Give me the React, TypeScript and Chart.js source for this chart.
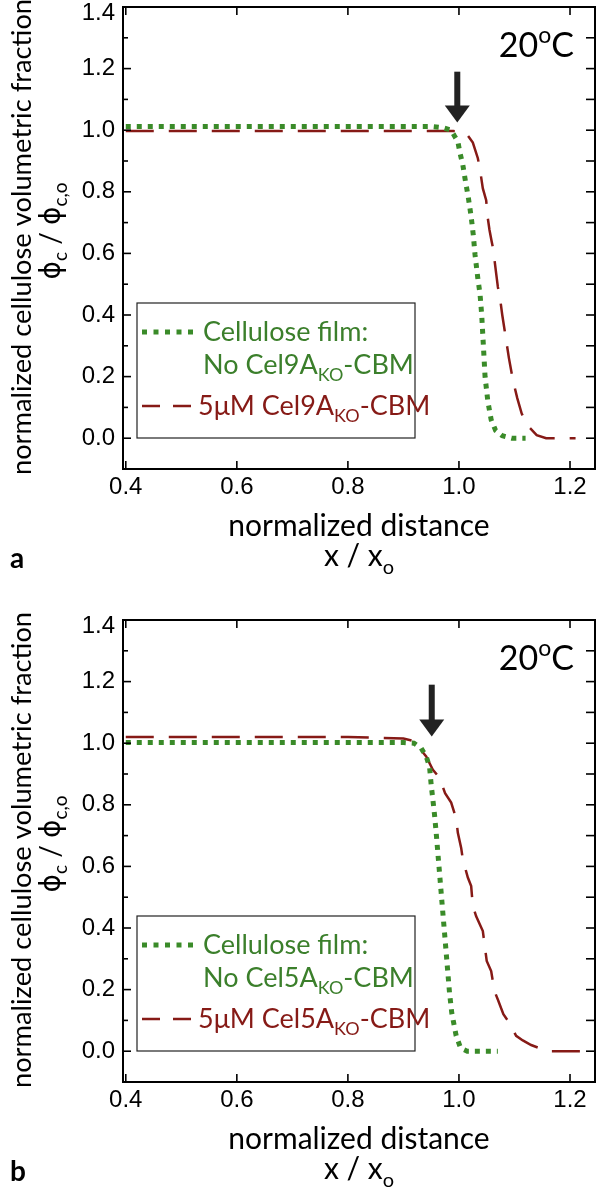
import React, { useEffect, useRef } from "react";
import { Chart, registerables } from "chart.js";

Chart.register(...registerables);

// ---------------- axes ----------------
const X_TICKS = [0.4, 0.6, 0.8, 1.0, 1.2];
const Y_TICKS = [0, 0.2, 0.4, 0.6, 0.8, 1.0, 1.2, 1.4];
const Y_MINOR_TICKS = [0.1, 0.3, 0.5, 0.7, 0.9, 1.1, 1.3];
const X_MIN = 0.395;
const X_MAX = 1.245;
const Y_MIN = -0.1;
const Y_MAX = 1.4;

// ---------------- panel a (Cel9A) ----------------
const A_FILM_X = [0.4, 0.6, 0.8, 0.95, 0.971, 0.986, 0.992, 0.998, 1.002, 1.007, 1.011, 1.017, 1.022, 1.026, 1.029, 1.034, 1.038, 1.041, 1.044, 1.047, 1.052, 1.058, 1.066, 1.078, 1.095, 1.12];
const A_FILM_Y = [1.012, 1.012, 1.012, 1.012, 1.008, 1.0, 0.981, 0.963, 0.925, 0.887, 0.842, 0.78, 0.719, 0.657, 0.595, 0.519, 0.467, 0.4, 0.3, 0.2, 0.12, 0.06, 0.025, 0.008, 0.0, 0.0];
const A_CBM_X = [0.4, 0.6, 0.8, 0.95, 0.99, 1.005, 1.013, 1.025, 1.034, 1.038, 1.043, 1.049, 1.052, 1.055, 1.059, 1.062, 1.064, 1.067, 1.07, 1.074, 1.078, 1.084, 1.09, 1.097, 1.105, 1.113, 1.124, 1.14, 1.157, 1.21];
const A_CBM_Y = [0.997, 0.997, 0.997, 0.997, 0.997, 0.995, 0.99, 0.96, 0.909, 0.871, 0.811, 0.773, 0.714, 0.676, 0.638, 0.611, 0.579, 0.535, 0.492, 0.454, 0.4, 0.33, 0.26, 0.19, 0.13, 0.08, 0.04, 0.01, 0.0, 0.0];
const A_ARROW = { x: 0.997, tip: 1.025, top: 1.19 };
const A_LEGEND_FILM = ["No Cel9A", "KO", "-CBM"];
const A_LEGEND_CBM = ["5μM Cel9A", "KO", "-CBM"];

// ---------------- panel b (Cel5A) ----------------
const B_FILM_X = [0.4, 0.6, 0.8, 0.9, 0.919, 0.932, 0.941, 0.947, 0.95, 0.953, 0.956, 0.959, 0.962, 0.965, 0.968, 0.971, 0.974, 0.977, 0.98, 0.983, 0.987, 0.995, 1.003, 1.015, 1.07];
const B_FILM_Y = [1.002, 1.002, 1.002, 1.002, 1.0, 0.984, 0.957, 0.924, 0.865, 0.817, 0.768, 0.709, 0.644, 0.579, 0.514, 0.449, 0.385, 0.32, 0.255, 0.19, 0.125, 0.05, 0.01, 0.0, 0.0];
const B_CBM_X = [0.4, 0.6, 0.8, 0.9, 0.917, 0.926, 0.941, 0.953, 0.965, 0.975, 0.986, 0.995, 0.998, 1.004, 1.007, 1.016, 1.022, 1.025, 1.031, 1.043, 1.05, 1.058, 1.064, 1.07, 1.08, 1.09, 1.103, 1.115, 1.13, 1.145, 1.157, 1.245];
const B_CBM_Y = [1.02, 1.02, 1.02, 1.015, 1.008, 0.99, 0.957, 0.914, 0.888, 0.838, 0.807, 0.755, 0.709, 0.66, 0.622, 0.564, 0.536, 0.471, 0.438, 0.39, 0.293, 0.26, 0.195, 0.168, 0.12, 0.094, 0.05, 0.035, 0.02, 0.01, 0.0, 0.0];
const B_ARROW = { x: 0.951, tip: 1.022, top: 1.19 };
const B_LEGEND_FILM = ["No Cel5A", "KO", "-CBM"];
const B_LEGEND_CBM = ["5μM Cel5A", "KO", "-CBM"];

// ---------------- text ----------------
const TEMP_LABEL = ["20", "o", "C"];
const LEGEND_FILM_TITLE = "Cellulose film:";
const Y_TITLE = "normalized cellulose volumetric fraction";
const Y_SYMBOL = ["ϕ", "c", " / ", "ϕ", "c,o"];
const X_TITLE = "normalized distance";
const X_SYMBOL = ["x / x", "o"];

// ---------------- style ----------------
const GREEN = "#3a8b29";
const GREEN_TEXT = "#3b7f2b";
const RED = "#861a16";
const SANS = 'Lato, "DejaVu Sans", sans-serif';
const SYM = '"DejaVu Sans", sans-serif';
const TICK_FAMILY = '"Liberation Sans", Arial, sans-serif';
const TICK_SIZE = 24;

type Seg = { t: string; k?: "sub" | "sup"; fam?: string };

function drawRich(
  ctx: CanvasRenderingContext2D,
  segs: Seg[],
  x: number,
  y: number,
  size: number,
  align: "left" | "center" | "right",
  color: string,
  weight = "normal"
) {
  const parts = segs.map((s) => {
    const sz = s.k ? Math.round(size * 0.68) : size;
    const font = `${weight} ${sz}px ${s.fam ?? SANS}`;
    ctx.font = font;
    const w = ctx.measureText(s.t).width;
    const dy = s.k === "sub" ? size * 0.26 : s.k === "sup" ? -size * 0.4 : 0;
    return { t: s.t, font, w, dy };
  });
  const total = parts.reduce((a, p) => a + p.w, 0);
  let cx = align === "left" ? x : align === "center" ? x - total / 2 : x - total;
  ctx.fillStyle = color;
  ctx.textAlign = "left";
  ctx.textBaseline = "alphabetic";
  for (const p of parts) {
    ctx.font = p.font;
    ctx.fillText(p.t, cx, y + p.dy);
    cx += p.w;
  }
}

type PanelCfg = {
  filmX: number[];
  filmY: number[];
  cbmX: number[];
  cbmY: number[];
  arrow: { x: number; tip: number; top: number };
  legendFilm: string[];
  legendCbm: string[];
  letter: string;
};

const PANEL_A: PanelCfg = {
  filmX: A_FILM_X, filmY: A_FILM_Y, cbmX: A_CBM_X, cbmY: A_CBM_Y,
  arrow: A_ARROW, legendFilm: A_LEGEND_FILM, legendCbm: A_LEGEND_CBM, letter: "a",
};
const PANEL_B: PanelCfg = {
  filmX: B_FILM_X, filmY: B_FILM_Y, cbmX: B_CBM_X, cbmY: B_CBM_Y,
  arrow: B_ARROW, legendFilm: B_LEGEND_FILM, legendCbm: B_LEGEND_CBM, letter: "b",
};

const CANVAS_H = 610;
const TOP_TICK = Y_TICKS[Y_TICKS.length - 1];

function Panel({ cfg, top }: { cfg: PanelCfg; top: number }) {
  const ref = useRef<HTMLCanvasElement | null>(null);

  useEffect(() => {
    const canvas = ref.current;
    if (!canvas) return;

    const decor = {
      id: "decor",
      afterDraw(chart: any) {
        const ctx: CanvasRenderingContext2D = chart.ctx;
        const ca = chart.chartArea;
        const xs = chart.scales.x;
        const ys = chart.scales.y;
        const seg = (x1: number, y1: number, x2: number, y2: number) => {
          ctx.beginPath();
          ctx.moveTo(x1, y1);
          ctx.lineTo(x2, y2);
          ctx.stroke();
        };
        ctx.save();
        // frame
        ctx.strokeStyle = "#000";
        ctx.lineWidth = 2;
        ctx.strokeRect(ca.left, ca.top, ca.right - ca.left, ca.bottom - ca.top);
        // inward ticks
        ctx.lineWidth = 1.6;
        X_TICKS.forEach((v) => {
          const p = xs.getPixelForValue(v);
          seg(p, ca.bottom, p, ca.bottom - 8);
          seg(p, ca.top, p, ca.top + 8);
        });
        Y_TICKS.forEach((v) => {
          const p = ys.getPixelForValue(v);
          seg(ca.left, p, ca.left + 8, p);
          seg(ca.right, p, ca.right - 9, p);
        });
        Y_MINOR_TICKS.forEach((v) => {
          const p = ys.getPixelForValue(v);
          seg(ca.left, p, ca.left + 5, p);
          seg(ca.right, p, ca.right - 9, p);
        });

        // arrow
        const ax = xs.getPixelForValue(cfg.arrow.x);
        const tip = ys.getPixelForValue(cfg.arrow.tip);
        const atop = ys.getPixelForValue(cfg.arrow.top);
        ctx.fillStyle = "#222";
        ctx.fillRect(ax - 3, atop, 6, tip - 16 - atop);
        ctx.beginPath();
        ctx.moveTo(ax - 12.5, tip - 17);
        ctx.lineTo(ax + 12.5, tip - 17);
        ctx.lineTo(ax, tip);
        ctx.closePath();
        ctx.fill();

        // temperature
        drawRich(
          ctx,
          [{ t: TEMP_LABEL[0] }, { t: TEMP_LABEL[1], k: "sup" }, { t: TEMP_LABEL[2] }],
          ca.right - 21, ca.top + 50, 34, "right", "#000"
        );

        // legend
        const lx = ca.left + 14;
        const lr = ca.left + 292;
        const lt = ca.top + 296;
        const lb = ca.bottom - 31;
        ctx.lineWidth = 1.2;
        ctx.strokeStyle = "#222";
        ctx.strokeRect(lx, lt, lr - lx, lb - lt);
        ctx.setLineDash([5, 6.5]);
        ctx.lineWidth = 5;
        ctx.strokeStyle = GREEN;
        seg(ca.left + 19, ca.top + 325, ca.left + 72, ca.top + 325);
        ctx.setLineDash([18, 13]);
        ctx.lineWidth = 2.5;
        ctx.strokeStyle = RED;
        seg(ca.left + 19, ca.top + 399, ca.left + 69, ca.top + 399);
        ctx.setLineDash([]);
        drawRich(ctx, [{ t: LEGEND_FILM_TITLE }], ca.left + 80, ca.top + 334, 27, "left", GREEN_TEXT);
        drawRich(
          ctx,
          [{ t: cfg.legendFilm[0] }, { t: cfg.legendFilm[1], k: "sub" }, { t: cfg.legendFilm[2] }],
          ca.left + 80, ca.top + 367, 27, "left", GREEN_TEXT
        );
        drawRich(
          ctx,
          [{ t: cfg.legendCbm[0] }, { t: cfg.legendCbm[1], k: "sub" }, { t: cfg.legendCbm[2] }],
          ca.left + 75, ca.top + 408, 27, "left", RED
        );

        // y title
        const cy = (ca.top + ca.bottom) / 2;
        ctx.save();
        ctx.translate(31, cy - 1);
        ctx.rotate(-Math.PI / 2);
        drawRich(ctx, [{ t: Y_TITLE }], 0, 0, 27.3, "center", "#000");
        ctx.restore();
        ctx.save();
        ctx.translate(60, cy - 7);
        ctx.rotate(-Math.PI / 2);
        drawRich(
          ctx,
          [
            { t: Y_SYMBOL[0], fam: SYM },
            { t: Y_SYMBOL[1], k: "sub" },
            { t: Y_SYMBOL[2] },
            { t: Y_SYMBOL[3], fam: SYM },
            { t: Y_SYMBOL[4], k: "sub" },
          ],
          0, 0, 28, "center", "#000"
        );
        ctx.restore();

        // x title
        const mx = (ca.left + ca.right) / 2;
        drawRich(ctx, [{ t: X_TITLE }], mx, ca.bottom + 67, 30, "center", "#000");
        drawRich(ctx, [{ t: X_SYMBOL[0] }, { t: X_SYMBOL[1], k: "sub" }], mx, ca.bottom + 97, 30, "center", "#000");

        // panel letter
        drawRich(ctx, [{ t: cfg.letter }], 10, ca.bottom + 99, 28, "left", "#000", "bold");
        ctx.restore();
      },
    };

    const tickFont = { family: TICK_FAMILY, size: TICK_SIZE };

    const chart = new Chart(canvas, {
      type: "line",
      data: {
        datasets: [
          {
            label: "film",
            data: cfg.filmX.map((x, i) => ({ x, y: cfg.filmY[i] })),
            borderColor: GREEN,
            borderWidth: 5,
            borderDash: [5, 6],
            borderCapStyle: "butt",
            pointRadius: 0,
            fill: false,
            tension: 0,
          },
          {
            label: "cbm",
            data: cfg.cbmX.map((x, i) => ({ x, y: cfg.cbmY[i] })),
            borderColor: RED,
            borderWidth: 2.5,
            borderDash: [28, 15],
            borderCapStyle: "butt",
            pointRadius: 0,
            fill: false,
            tension: 0,
          },
        ],
      },
      options: {
        responsive: false,
        animation: false,
        events: [],
        layout: { padding: { top: 27, left: 0, right: 5, bottom: CANVAS_H - 489 - 60 } },
        plugins: { legend: { display: false }, tooltip: { enabled: false } },
        scales: {
          x: {
            type: "linear",
            min: X_MIN,
            max: X_MAX,
            afterBuildTicks: (s: any) => {
              s.ticks = X_TICKS.map((v) => ({ value: v }));
            },
            afterFit: (s: any) => {
              s.height = 60;
            },
            grid: { display: false, drawTicks: false },
            border: { display: false },
            ticks: {
              padding: 4,
              font: tickFont,
              color: "#000",
              maxRotation: 0,
              autoSkip: false,
              callback: (v: any) => Number(v).toFixed(1),
            },
          },
          y: {
            type: "linear",
            min: Y_MIN,
            max: Y_MAX,
            afterBuildTicks: (s: any) => {
              s.ticks = Y_TICKS.map((v) => ({ value: v }));
            },
            afterFit: (s: any) => {
              s.width = 123;
            },
            grid: { display: false, drawTicks: false },
            border: { display: false },
            ticks: {
              padding: 8,
              font: (c: any) =>
                c.tick && Math.abs(c.tick.value - TOP_TICK) < 1e-9
                  ? { family: TICK_FAMILY, size: TICK_SIZE, lineHeight: 0.55 }
                  : tickFont,
              color: "#000",
              autoSkip: false,
              callback: (v: any) =>
                Math.abs(Number(v) - TOP_TICK) < 1e-9 ? ["", Number(v).toFixed(1)] : Number(v).toFixed(1),
            },
          },
        },
      },
      plugins: [decor],
    } as any);

    return () => chart.destroy();
  }, [cfg]);

  return (
    <canvas
      ref={ref}
      width={600}
      height={CANVAS_H}
      style={{ position: "absolute", left: 0, top, width: 600, height: CANVAS_H, display: "block" }}
    />
  );
}

export default function App() {
  return (
    <div
      style={{
        position: "absolute",
        left: 0,
        top: 0,
        width: 600,
        height: 1189,
        overflow: "hidden",
        background: "#fff",
      }}
    >
      <Panel cfg={PANEL_A} top={-20} />
      <Panel cfg={PANEL_B} top={593} />
    </div>
  );
}
